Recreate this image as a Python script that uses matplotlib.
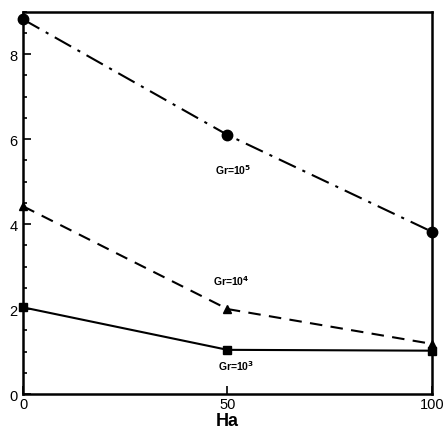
import matplotlib
matplotlib.use("Agg")
import matplotlib.pyplot as plt
from matplotlib.ticker import MultipleLocator

plt.rcParams["font.family"] = ["Liberation Sans", "DejaVu Sans"]

# Hartmann number and the plotted quantity for each Grashof number
ha = [0, 50, 100]
gr5 = [8.82, 6.10, 3.82]
gr4 = [4.42, 2.00, 1.18]
gr3 = [2.04, 1.04, 1.02]

x_ticks = [0, 50, 100]
y_ticks = [0, 2, 4, 6, 8]

fig = plt.figure(figsize=(4.43, 4.31), dpi=100)
ax = fig.add_axes([0.052, 0.0835, 0.923, 0.887])

ax.plot(ha, gr5, color="black", lw=1.5, dashes=(9, 3.5, 1.5, 3.5),
        marker="o", ms=7.5, clip_on=False, zorder=3)
ax.plot(ha, gr4, color="black", lw=1.5, dashes=(6, 4),
        marker="^", ms=6, clip_on=False, zorder=3)
ax.plot(ha, gr3, color="black", lw=1.5, ls="-",
        marker="s", ms=5.5, clip_on=False, zorder=3)

lbl = dict(fontsize=7.5, fontweight="bold", ha="center", va="center")
ax.text(51.5, 5.3, r"Gr=10$^{\mathbf{5}}$", **lbl)
ax.text(51, 2.68, r"Gr=10$^{\mathbf{4}}$", **lbl)
ax.text(52, 0.67, r"Gr=10$^{\mathbf{3}}$", **lbl)

ax.set_xlim(0, 100)
ax.set_ylim(0, 9)
ax.set_xticks(x_ticks)
ax.set_yticks(y_ticks)
ax.yaxis.set_minor_locator(MultipleLocator(0.5))
ax.tick_params(which="both", direction="in", top=False, right=False,
               labelsize=10.5, width=1.2)
ax.tick_params(axis="y", pad=4)
ax.tick_params(axis="x", pad=2)
ax.tick_params(which="major", length=6)
ax.tick_params(which="minor", length=3)
for s in ax.spines.values():
    s.set_linewidth(1.8)

ax.set_xlabel("Ha", fontsize=13, fontweight="bold", labelpad=1)

fig.savefig("out.png", dpi=100)
